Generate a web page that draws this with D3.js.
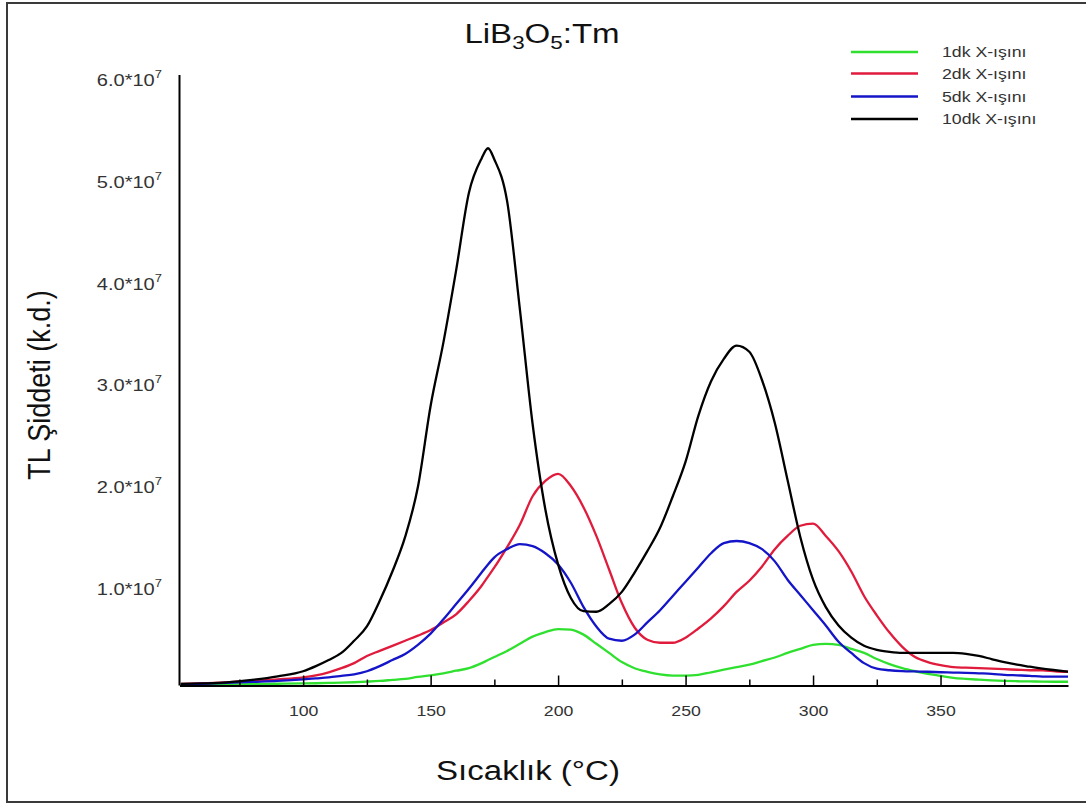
<!DOCTYPE html>
<html>
<head>
<meta charset="utf-8">
<script src="https://cdn.jsdelivr.net/npm/d3@7"></script>
<style>
  body { margin: 0; background: #fff; }
  text { font-family: "Liberation Sans", Arial, sans-serif; }
</style>
</head>
<body>
<script>
//Temperature grid (°C) shared by all four glow curves.
var temps = [52, 60, 70, 80, 90, 100, 105, 110, 115, 120, 125, 130, 135, 140, 145, 150, 155, 160, 165, 170, 172.5,
  175, 180, 185, 190, 195, 200, 205, 210, 215, 220, 225, 230, 235, 240, 245, 250, 255, 260, 265, 270, 275, 280,
  285, 290, 295, 300, 305, 310, 315, 320, 325, 330, 335, 340, 345, 350, 355, 360, 365, 370, 375, 380, 385, 390, 395, 400];

//TL intensity in units of 10^6.
var dk1 = [0.05, 0.08, 0.1, 0.13, 0.17, 0.2, 0.22, 0.25, 0.28, 0.32, 0.38, 0.45, 0.55, 0.65, 0.85, 1.0, 1.2, 1.45, 1.7, 2.2, 2.5,
  2.8, 3.4, 4.1, 4.8, 5.25, 5.55, 5.5, 5.0, 4.1, 3.2, 2.3, 1.7, 1.35, 1.1, 0.98, 0.97, 1.05, 1.3, 1.55, 1.8, 2.05, 2.4,
  2.75, 3.2, 3.6, 4.0, 4.1, 4.0, 3.6, 3.2, 2.6, 2.1, 1.7, 1.4, 1.15, 0.95, 0.75, 0.65, 0.57, 0.5, 0.45, 0.42, 0.4, 0.38, 0.37, 0.37];
var dk2 = [0.15, 0.2, 0.3, 0.45, 0.6, 0.8, 1.0, 1.3, 1.7, 2.2, 2.9, 3.4, 3.9, 4.4, 4.9, 5.45, 6.2, 7.0, 8.3, 9.8, 10.7,
  11.6, 13.6, 15.8, 18.6, 20.1, 20.8, 19.6, 17.5, 14.7, 11.4, 8.1, 5.7, 4.5, 4.2, 4.2, 4.7, 5.6, 6.6, 7.8, 9.2, 10.3, 11.7,
  13.4, 14.7, 15.7, 15.9, 14.7, 13.2, 11.2, 8.8, 6.9, 5.2, 3.8, 2.8, 2.3, 2.0, 1.8, 1.75, 1.7, 1.65, 1.6, 1.55, 1.5, 1.5, 1.4, 1.35];
var dk5 = [0.1, 0.15, 0.25, 0.35, 0.45, 0.6, 0.7, 0.8, 0.95, 1.1, 1.4, 1.9, 2.5, 3.1, 4.0, 5.1, 6.5, 8.0, 9.5, 11.1, 11.9,
  12.6, 13.4, 13.9, 13.7, 13.0, 11.9, 10.1, 7.7, 5.8, 4.6, 4.4, 5.0, 6.2, 7.4, 8.8, 10.2, 11.6, 13.0, 14.0, 14.2, 14.0, 13.4,
  12.2, 10.4, 8.9, 7.4, 5.9, 4.3, 3.2, 2.2, 1.65, 1.5, 1.42, 1.38, 1.35, 1.3, 1.27, 1.25, 1.2, 1.15, 1.05, 1.0, 0.95, 0.87, 0.87, 0.87];
var dk10 = [0.15, 0.2, 0.3, 0.55, 0.9, 1.4, 1.9, 2.5, 3.2, 4.4, 5.8, 8.3, 11.2, 14.6, 19.5, 27.5, 33.7, 40.8, 48.4, 51.8, 52.8,
  51.7, 47.6, 37, 25.7, 17.3, 11.9, 8.6, 7.3, 7.25, 8.0, 9.2, 11.1, 13.2, 15.5, 18.6, 22.0, 26.5, 29.9, 32.1, 33.4, 32.8, 30.0,
  25.8, 20.2, 14.6, 10.4, 7.7, 5.9, 4.7, 3.9, 3.5, 3.3, 3.2, 3.2, 3.2, 3.2, 3.2, 3.1, 2.9, 2.6, 2.3, 2.05, 1.85, 1.65, 1.5, 1.35];

//Legend labels, colours and ticks.
var seriesNames = ["1dk X-ışını", "2dk X-ışını", "5dk X-ışını", "10dk X-ışını"];
var seriesColors = ["#2fe02f", "#e01b3c", "#1414c8", "#000000"];
var seriesValues = [dk1, dk2, dk5, dk10];
var xMajorTicks = [100, 150, 200, 250, 300, 350];
var xMinorTicks = [75, 125, 175, 225, 275, 325, 375];
var yTickMantissas = [1, 2, 3, 4, 5, 6];

//The reference text looks horizontally stretched, so text gets this x scale.
var stretch = 1.18;

var width = 1086;
var height = 804;

var svg = d3.select("body").append("svg").attr("width", width).attr("height", height);

//Outer frame.
svg.append("rect")
   .attr("x", 7).attr("y", 3)
   .attr("width", 1090).attr("height", 799)
   .attr("fill", "none").attr("stroke", "#3a3a3a").attr("stroke-width", 2);

//Scales.
var x = d3.scaleLinear().domain([51.5, 400]).range([179.5, 1068]);
var y = d3.scaleLinear().domain([0, 6e7]).range([685.5, 75]);

//Helper for stretched text.
function stretchedText(px, py, size, anchor) {
  return svg.append("text")
    .attr("transform", "translate(" + px + "," + py + ") scale(" + stretch + ",1)")
    .attr("text-anchor", anchor)
    .attr("font-size", size);
}

//Curves.
var line = d3.line()
  .x(function(d) { return x(d[0]); })
  .y(function(d) { return y(d[1] * 1e6); })
  .curve(d3.curveMonotoneX);

seriesValues.forEach(function(vals, i) {
  var pts = temps.map(function(t, j) { return [t, vals[j]]; });
  svg.append("path")
     .datum(pts)
     .attr("d", line)
     .attr("fill", "none")
     .attr("stroke", seriesColors[i])
     .attr("stroke-width", 2.3)
     .attr("stroke-linejoin", "round");
});

//X axis, major ticks pointing up into the plot.
var xAxis = svg.append("g")
  .attr("transform", "translate(0," + y(0) + ")")
  .call(d3.axisBottom(x).tickValues(xMajorTicks).tickSize(-10).tickSizeOuter(0).tickPadding(20));
xAxis.select(".domain").attr("stroke", "#000").attr("stroke-width", 2);
xAxis.selectAll(".tick line").attr("stroke", "#000").attr("stroke-width", 1.5);
xAxis.selectAll(".tick text")
     .attr("font-size", 15)
     .attr("fill", "#333")
     .attr("font-family", "Liberation Sans, Arial, sans-serif")
     .attr("transform", "scale(" + stretch + ",1)")
     .attr("x", function(d) { return 0; });
//Undo the stretch shift of each tick group by placing the text at the tick.
xAxis.selectAll(".tick").each(function(d) {
  d3.select(this).select("text").attr("transform", "scale(" + stretch + ",1)");
});

//Minor ticks.
var xMinor = svg.append("g")
  .attr("transform", "translate(0," + y(0) + ")")
  .call(d3.axisBottom(x).tickValues(xMinorTicks).tickSize(-6).tickSizeOuter(0).tickFormat(""));
xMinor.select(".domain").remove();
xMinor.selectAll(".tick line").attr("stroke", "#000").attr("stroke-width", 1.5);

//Y axis line without ticks.
svg.append("line")
   .attr("x1", x.range()[0]).attr("x2", x.range()[0])
   .attr("y1", y(6e7)).attr("y2", y(0))
   .attr("stroke", "#000").attr("stroke-width", 2);

//Y tick labels like 6.0*10^7.
yTickMantissas.forEach(function(m) {
  var t = stretchedText(162, y(m * 1e7) + 11, 17, "end").attr("fill", "#333");
  t.append("tspan").text(m.toFixed(1) + "*10");
  t.append("tspan").attr("font-size", 11).attr("dy", -8).text("7");
});

//Chart title with subscripts.
var title = stretchedText(542, 43, 28, "middle").attr("fill", "#111");
title.append("tspan").text("LiB");
title.append("tspan").attr("font-size", 19).attr("dy", 6).text("3");
title.append("tspan").attr("dy", -6).text("O");
title.append("tspan").attr("font-size", 19).attr("dy", 6).text("5");
title.append("tspan").attr("dy", -6).text(":Tm");

//Axis titles.
stretchedText(528, 780, 28, "middle").attr("fill", "#111").text("Sıcaklık (°C)");
svg.append("text")
   .attr("transform", "translate(50,385) rotate(-90) scale(1," + stretch + ")")
   .attr("text-anchor", "middle")
   .attr("font-size", 27)
   .attr("fill", "#111")
   .text("TL Şiddeti (k.d.)");

//Legend.
var legendRows = [52, 73.5, 96.5, 119];
seriesNames.forEach(function(name, i) {
  svg.append("line")
     .attr("x1", 851).attr("x2", 918)
     .attr("y1", legendRows[i]).attr("y2", legendRows[i])
     .attr("stroke", seriesColors[i]).attr("stroke-width", 2.5);
  stretchedText(942, legendRows[i] + 5, 15, "start").attr("fill", "#333").text(name);
});
</script>
</body>
</html>
